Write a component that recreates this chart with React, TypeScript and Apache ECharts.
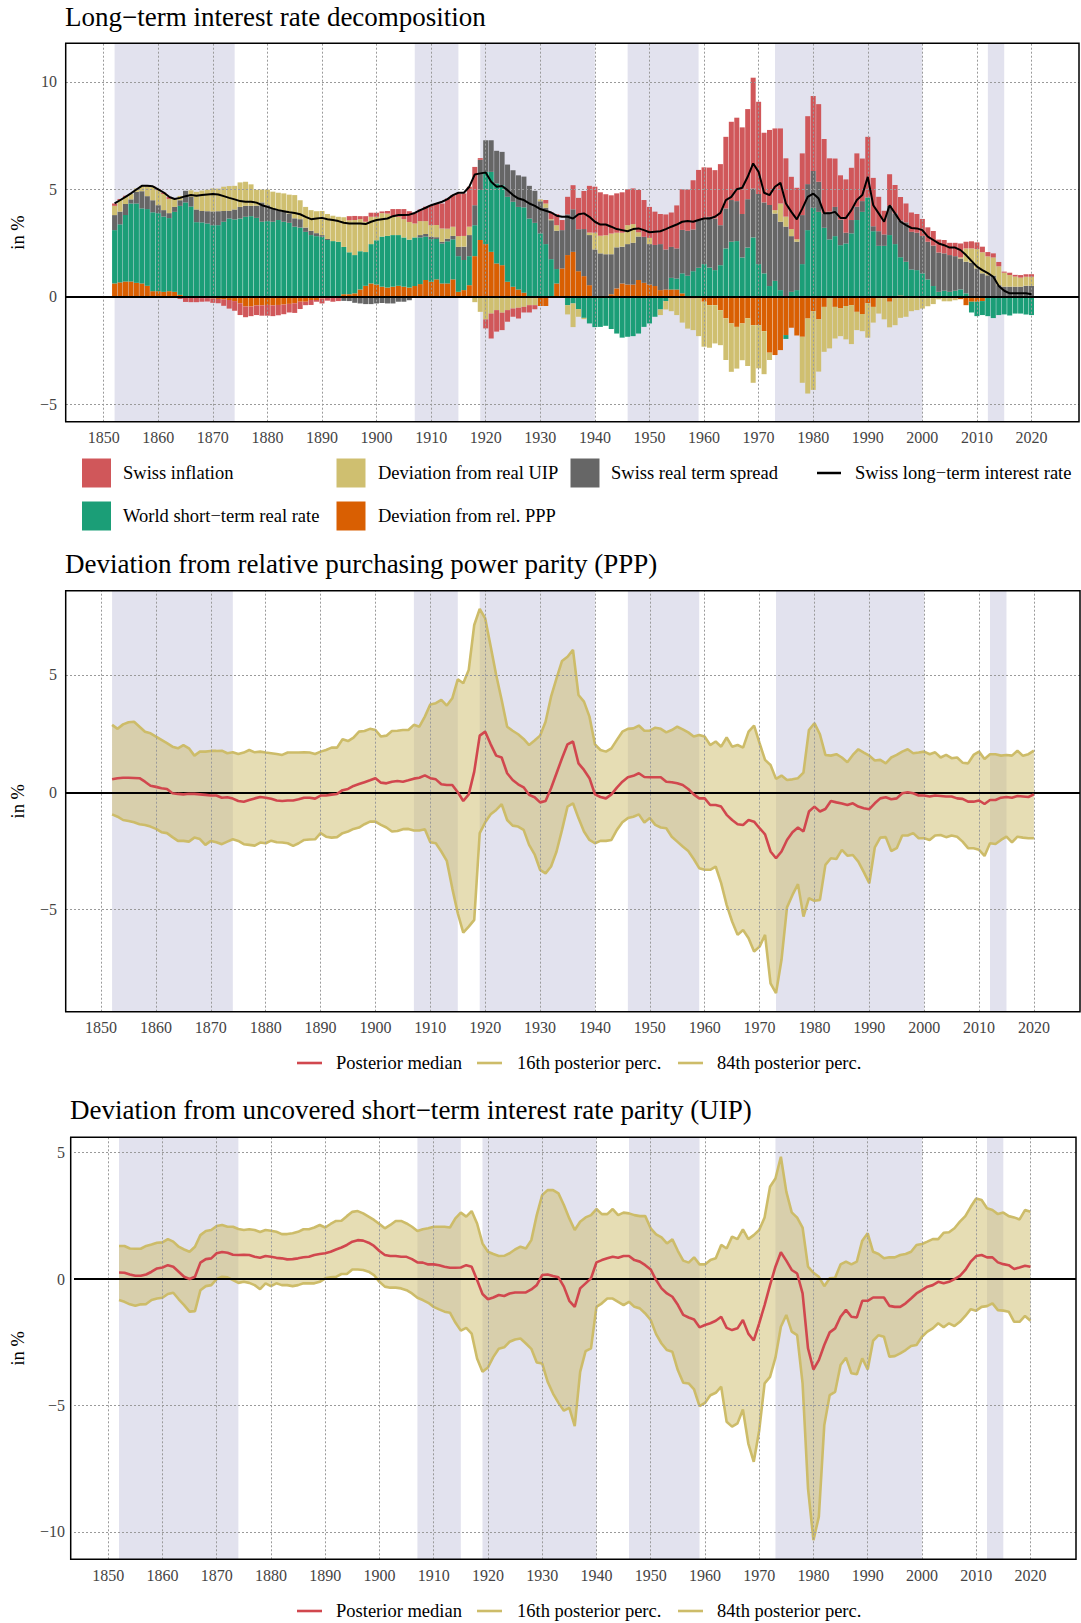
import React, { useEffect, useRef } from 'react';
import * as echarts from 'echarts';

const startYear = 1852;

// ---------- Panel 1: long-term interest rate decomposition (1852-2020) ----------
const pppDev = [
  0.62, 0.67, 0.71, 0.71, 0.65, 0.62, 0.51, 0.26,
  0.26, 0.23, 0.26, 0.23, 0.09, 0.03, -0.05, -0.05, -0.06, -0.06,
  -0.08, -0.1, -0.12, -0.15, -0.2, -0.3, -0.45, -0.45, -0.4, -0.4,
  -0.38, -0.4, -0.38, -0.36, -0.33, -0.3, -0.23, -0.23, -0.15, -0.15,
  -0.08, -0.05, -0.03, 0, 0.12, 0.12, 0.16, 0.34, 0.51, 0.62,
  0.57, 0.47, 0.43, 0.47, 0.51, 0.47, 0.43, 0.5, 0.59, 0.78,
  0.7, 0.81, 0.62, 0.62, 0.81, 0.23, 0.31, 0.54, 1.89, 2.64,
  2.45, 2.09, 1.55, 1.47, 0.7, 0.47, 0.34, 0.19, 0, 0,
  -0.43, -0.43, -0.05, 0.62, 1.32, 1.94, 2.09, 1.19, 0.96, 0.54,
  0, 0, 0, 0.12, 0.39, 0.62, 0.57, 0.57, 0.78, 0.65,
  0.57, 0.5, 0.31, 0.34, 0.34, 0.34, 0.16, -0.08, -0.08, 0,
  -0.23, -0.39, -0.39, -0.62, -1.0, -1.24, -1.4, -1.24, -1.0, -1.32,
  -1.32, -1.6, -2.6, -2.71, -2.48, -1.78, -1.44, -1.8, -1.86, -1.01,
  -0.67, -1.05, -0.47, 0, -0.47, -0.54, -0.43, -0.39, -0.7, -0.8,
  -0.3, -0.47, 0, 0, -0.23, 0, 0.06, 0, 0, 0,
  -0.05, -0.05, 0, 0, -0.05, -0.05, -0.08, -0.11, -0.39, -0.23,
  -0.23, -0.2, -0.05, -0.03, -0.03, 0, -0.02, 0, 0, 0,
  0,
];
const worldRate = [
  2.48, 2.7, 3.09, 3.63, 3.69, 3.49, 3.57, 3.67,
  3.63, 3.5, 3.4, 3.72, 4.14, 4.36, 4.2, 3.47, 3.46, 3.41,
  3.33, 3.33, 3.49, 3.64, 3.6, 3.64, 3.72, 3.75, 3.67, 3.49,
  3.52, 3.49, 3.57, 3.49, 3.44, 3.26, 3.22, 3.02, 2.87, 2.82,
  2.79, 2.64, 2.59, 2.56, 2.2, 1.95, 1.78, 1.78, 1.57, 1.83,
  2.06, 2.33, 2.4, 2.4, 2.36, 2.29, 2.23, 2.26, 2.17, 2.02,
  1.98, 1.88, 1.86, 1.96, 1.86, 1.66, 1.4, 1.35, 1.44, 2.33,
  3.36, 3.72, 3.72, 3.72, 3.95, 3.95, 3.84, 3.97, 3.64, 3.44,
  2.95, 2.45, 1.75, 0.67, 0, -0.39, -0.31, -0.57, -0.98, -1.24,
  -1.41, -1.4, -1.35, -1.5, -1.71, -1.9, -1.86, -1.83, -1.71, -1.4,
  -1.24, -0.93, -0.59, -0.2, 0.54, 0.51, 0.93, 0.98, 1.19, 1.35,
  1.52, 1.36, 1.24, 1.47, 2.25, 2.56, 2.59, 1.83, 2.29, 2.76,
  1.52, 1.09, 0.5, 0.74, 0.31, -0.18, 0.23, 0.31, 1.52, 3.1,
  4.14, 3.95, 3.21, 2.67, 2.82, 2.4, 2.48, 2.95, 3.57, 3.95,
  4.62, 3.05, 2.37, 2.37, 2.87, 2.45, 1.78, 1.63, 1.27, 1.24,
  1.09, 0.81, 0.5, 0.23, 0.28, 0.23, 0.28, 0.34, 0.16, -0.5,
  -0.67, -0.65, -0.85, -0.96, -0.82, -0.82, -0.85, -0.78, -0.78, -0.82,
  -0.85,
];
const termSpread = [
  0.7, 0.59, 0.51, 0.19, 0.54, 0.8, 0.6, 0.56,
  0.37, 0.3, 0.23, 0.23, 0.26, 0.54, 0.45, 0.59, 0.53, 0.57,
  0.64, 0.65, 0.5, 0.36, 0.46, 0.54, 0.51, 0.48, 0.57, 0.9,
  0.74, 0.62, 0.46, 0.47, 0.43, 0.39, 0.39, 0.2, 0.2, 0.14,
  0.08, 0.05, 0, 0, -0.19, -0.2, -0.28, -0.31, -0.34, -0.34,
  -0.31, -0.29, -0.31, -0.31, -0.23, -0.23, -0.16, -0.05, 0.11, 0.12,
  0.11, 0.08, 0.08, 0.12, 0.16, 0.43, 0.62, 0.98, 0.93, 1.4,
  1.47, 1.47, 1.52, 1.55, 1.5, 1.47, 1.47, 1.43, 1.52, 1.49,
  1.49, 1.69, 1.81, 1.78, 1.78, 1.89, 1.98, 1.95, 2.19, 2.33,
  2.2, 2.02, 1.98, 1.86, 1.91, 1.71, 1.88, 1.94, 2.02, 2.14,
  1.88, 1.91, 2.14, 1.86, 1.44, 1.4, 2.02, 2.09, 1.94, 2.22,
  2.08, 2.36, 2.4, 1.86, 1.86, 1.94, 1.86, 2.02, 2.25, 2.28,
  3.26, 3.3, 3.77, 3.13, 3.18, 3.26, 2.59, 2.25, 2.28, 2.14,
  1.71, 1.4, 0.67, 1.29, 1.36, 1.19, 0.5, 0.62, 0.62, 0.5,
  0, 0.23, 0.68, 0.53, 1.36, 1.43, 1.71, 1.83, 1.75, 1.74,
  1.74, 1.75, 1.88, 1.83, 1.74, 1.71, 1.61, 1.44, 1.47, 1.58,
  1.32, 1.09, 1.0, 0.98, 0.54, 0.47, 0.47, 0.47, 0.47, 0.51,
  0.51,
];
const uipDev = [
  0.43, 0.54, 0.34, 0.25, 0.16, 0.25, 0.45, 0.62,
  0.7, 0.75, 0.66, 0.4, 0.2, 0, 0.3, 0.82, 0.95, 1.0,
  1.07, 1.05, 1.13, 1.15, 1.1, 1.14, 1.12, 1.0, 0.74, 0.6,
  0.73, 0.78, 0.81, 0.85, 0.88, 1.08, 0.88, 0.96, 0.96, 1.02,
  1.12, 1.16, 1.18, 1.16, 1.38, 1.49, 1.63, 1.49, 1.41, 1.27,
  1.09, 1.09, 1.04, 0.85, 0.85, 0.85, 0.82, 0.65, 0.65, 0.6,
  0.54, 0.57, 0.62, 0.47, 0.43, 0.5, 0.5, 0.39, -0.25, -0.7,
  -1.05, -0.78, -0.62, -0.74, -0.62, -0.54, -0.51, -0.47, -0.39, -0.39,
  0.09, 0.2, 0.05, 0.26, -0.05, -0.43, -1.1, -0.36, -0.06, 0.12,
  0.78, 0.82, 0.88, 0.96, 0.68, 0.65, 0.88, 0.87, 0.2, 0,
  0.29, 0, -0.26, -0.39, -0.67, -0.85, -1.2, -1.4, -1.47, -1.83,
  -2.09, -1.98, -1.78, -1.63, -1.94, -2.25, -1.94, -1.71, -2.22, -2.68,
  -2.01, -2.0, -0.34, 0.16, 0.85, 0.47, 0.33, 0.12, -2.14, -3.49,
  -3.66, -2.43, -2.09, -2.4, -1.47, -1.29, -1.55, -1.81, -0.85, -0.8,
  -1.6, -0.73, -0.78, -1.05, -1.19, -1.32, -0.98, -0.93, -0.67, -0.62,
  -0.5, -0.39, -0.34, -0.12, -0.16, -0.16, -0.08, 0.05, 0.62, 0.67,
  0.9, 0.98, 0.88, 0.85, 0.88, 0.65, 0.54, 0.47, 0.42, 0.42,
  0.42,
];
const swissInflation = [
  0.11, 0.05, 0.05, 0, 0, 0, 0.03, 0.03,
  0.04, 0.07, 0.1, 0, -0.1, -0.24, -0.2, -0.2, -0.17, -0.16,
  -0.2, -0.2, -0.3, -0.4, -0.45, -0.55, -0.5, -0.45, -0.45, -0.48,
  -0.5, -0.5, -0.48, -0.45, -0.4, -0.45, -0.34, -0.16, -0.23, -0.08,
  -0.23, -0.13, -0.2, -0.2, 0, 0.19, 0.19, 0.14, 0.26, 0.19,
  0.19, 0.08, 0.12, 0.36, 0.36, 0.47, 0.5, 0.5, 0.54, 0.67,
  0.93, 1.0, 1.16, 1.4, 1.47, 1.98, 1.98, 1.86, 1.78, 0.08,
  -0.42, -1.16, -1.0, -0.81, -0.54, -0.39, -0.5, -0.26, -0.34, -0.19,
  0, 0.16, 0.31, 0.51, 0.47, 0.82, 1.12, 1.46, 1.77, 2.17,
  2.14, 2.02, 1.91, 1.78, 1.83, 1.88, 1.67, 1.66, 1.97, 1.71,
  1.44, 1.55, 1.4, 1.63, 1.6, 2.0, 1.89, 1.92, 2.29, 2.33,
  2.42, 2.29, 2.25, 2.84, 3.33, 3.64, 3.88, 4.03, 4.19, 5.15,
  4.29, 3.24, 3.49, 3.8, 3.49, 2.71, 2.43, 2.39, 2.87, 3.16,
  3.49, 3.61, 3.46, 2.48, 2.25, 2.06, 2.48, 2.43, 2.48, 1.98,
  2.82, 2.25, 1.6, 1.1, 1.47, 1.32, 1.09, 0.88, 0.9, 0.87,
  0.79, 0.67, 0.68, 0.6, 0.62, 0.57, 0.62, 0.65, 0.31, 0.33,
  0.31, 0.26, 0.2, 0.19, 0.2, 0.05, 0.11, 0.08, 0.12, 0.12,
  0.12,
];
const longTermRate = [
  4.34, 4.49, 4.65, 4.81, 4.99, 5.16, 5.16, 5.14,
  5.0, 4.85, 4.65, 4.55, 4.6, 4.68, 4.73, 4.7, 4.73, 4.76,
  4.78, 4.76, 4.68, 4.6, 4.53, 4.45, 4.42, 4.42, 4.38, 4.26,
  4.18, 4.1, 4.03, 3.98, 3.93, 3.9, 3.84, 3.72, 3.61, 3.64,
  3.67, 3.61, 3.57, 3.52, 3.44, 3.41, 3.41, 3.41, 3.38, 3.49,
  3.57, 3.61, 3.64, 3.75, 3.8, 3.8, 3.82, 3.9, 4.03, 4.14,
  4.26, 4.34, 4.42, 4.54, 4.73, 4.84, 4.84, 5.12, 5.69, 5.74,
  5.78, 5.35, 5.12, 5.15, 4.96, 4.73, 4.57, 4.5, 4.34, 4.23,
  4.08, 4.0, 3.92, 3.77, 3.72, 3.72, 3.64, 3.84, 3.88, 3.72,
  3.49, 3.36, 3.36, 3.26, 3.15, 3.1, 3.05, 3.15, 3.18, 3.1,
  3.0, 3.03, 3.05, 3.15, 3.26, 3.36, 3.49, 3.52, 3.49, 3.57,
  3.64, 3.64, 3.72, 3.9, 4.5, 4.65, 5.0, 5.07, 5.58, 6.2,
  5.81, 4.84, 4.73, 5.12, 5.3, 4.34, 3.95, 3.6, 4.1, 4.65,
  4.8, 4.57, 3.88, 3.88, 3.95, 3.67, 3.67, 4.03, 4.5, 4.73,
  5.58, 4.26, 3.88, 3.49, 4.26, 3.88, 3.49, 3.33, 3.2, 3.18,
  3.1, 2.8, 2.64, 2.48, 2.4, 2.29, 2.29, 2.17, 1.94, 1.67,
  1.4, 1.24, 1.1, 0.93, 0.5, 0.28, 0.16, 0.16, 0.16, 0.16,
  0.12,
];

// ---------- Panel 2: deviation from relative PPP ----------
const pppP84 = [
  2.87, 2.7, 2.89, 2.98, 3.0, 2.79, 2.58, 2.51,
  2.37, 2.23, 2.09, 1.94, 1.87, 2.01, 1.87, 1.56, 1.73, 1.73,
  1.76, 1.76, 1.77, 1.66, 1.7, 1.63, 1.69, 1.8, 1.7, 1.73,
  1.69, 1.66, 1.63, 1.59, 1.69, 1.69, 1.69, 1.7, 1.69, 1.63,
  1.73, 1.8, 1.9, 1.9, 2.26, 2.18, 2.33, 2.58, 2.61, 2.7,
  2.65, 2.37, 2.41, 2.61, 2.62, 2.65, 2.65, 2.87, 2.79, 3.22,
  3.74, 3.79, 3.93, 3.69, 4.0, 4.81, 4.64, 5.21, 7.12, 7.8,
  7.4, 6.2, 4.99, 3.93, 2.79, 2.62, 2.47, 2.27, 2.01, 2.2,
  2.41, 3.0, 4.07, 4.85, 5.59, 5.77, 6.06, 4.14, 3.86, 3.22,
  2.04, 1.8, 1.73, 1.87, 2.23, 2.58, 2.7, 2.72, 2.84, 2.62,
  2.62, 2.75, 2.7, 2.55, 2.65, 2.79, 2.68, 2.55, 2.37, 2.44,
  2.37, 2.01, 2.16, 1.94, 2.33, 1.94, 2.01, 1.9, 2.58, 2.84,
  2.09, 1.38, 1.16, 0.57, 0.71, 0.52, 0.55, 0.6, 0.84, 2.65,
  2.94, 2.47, 1.59, 1.56, 1.62, 1.48, 1.28, 1.59, 1.83, 1.69,
  1.56, 1.35, 1.38, 1.23, 1.48, 1.59, 1.73, 1.83, 1.66, 1.69,
  1.73, 1.62, 1.7, 1.48, 1.59, 1.45, 1.48, 1.26, 1.23, 1.59,
  1.73, 1.42, 1.62, 1.62, 1.56, 1.59, 1.56, 1.77, 1.55, 1.62,
  1.77,
];
const pppMedian = [
  0.55, 0.6, 0.62, 0.62, 0.61, 0.6, 0.45, 0.28,
  0.23, 0.17, 0.14, -0.04, -0.07, -0.09, -0.06, -0.07, -0.09, -0.11,
  -0.14, -0.14, -0.23, -0.21, -0.27, -0.37, -0.4, -0.33, -0.26, -0.2,
  -0.23, -0.28, -0.35, -0.37, -0.35, -0.35, -0.3, -0.23, -0.23, -0.27,
  -0.14, -0.14, -0.1, -0.07, 0.09, 0.14, 0.27, 0.35, 0.43, 0.51,
  0.6, 0.41, 0.38, 0.45, 0.48, 0.45, 0.51, 0.58, 0.62, 0.72,
  0.6, 0.55, 0.34, 0.31, 0.31, 0, -0.37, -0.09, 0.88, 2.41,
  2.58, 2.04, 1.56, 1.48, 0.81, 0.52, 0.34, 0.21, -0.11, -0.21,
  -0.43, -0.37, 0.17, 0.81, 1.45, 2.04, 2.16, 1.23, 0.95, 0.6,
  -0.09, -0.2, -0.26, -0.09, 0.2, 0.45, 0.64, 0.7, 0.81, 0.65,
  0.64, 0.64, 0.64, 0.45, 0.43, 0.38, 0.31, 0.14, -0.09, -0.26,
  -0.26, -0.54, -0.54, -0.61, -0.96, -1.18, -1.36, -1.39, -1.18, -1.25,
  -1.53, -1.79, -2.52, -2.81, -2.52, -2.03, -1.7, -1.5, -1.67, -0.82,
  -0.61, -0.82, -0.71, -0.37, -0.43, -0.48, -0.54, -0.47, -0.61, -0.68,
  -0.72, -0.47, -0.26, -0.21, -0.3, -0.26, -0.04, 0, -0.04, -0.14,
  -0.14, -0.18, -0.14, -0.16, -0.18, -0.18, -0.26, -0.28, -0.4, -0.4,
  -0.35, -0.5, -0.33, -0.33, -0.23, -0.2, -0.23, -0.16, -0.18, -0.2,
  -0.09,
];
const pppP16 = [
  -0.94, -1.04, -1.18, -1.22, -1.28, -1.36, -1.39, -1.46,
  -1.56, -1.7, -1.74, -1.91, -2.07, -2.07, -2.1, -1.93, -1.99, -2.24,
  -2.07, -2.13, -2.21, -2.1, -2.0, -2.07, -2.21, -2.24, -2.27, -2.14,
  -2.17, -2.06, -2.13, -2.14, -2.17, -2.28, -2.17, -2.03, -2.01, -2.0,
  -1.74, -1.89, -1.93, -1.91, -1.74, -1.67, -1.56, -1.5, -1.36, -1.25,
  -1.25, -1.39, -1.5, -1.67, -1.65, -1.57, -1.56, -1.63, -1.63, -1.57,
  -2.13, -2.17, -2.52, -2.92, -4.09, -5.15, -5.97, -5.72, -5.43, -1.74,
  -1.28, -0.94, -0.75, -0.51, -1.18, -1.42, -1.46, -1.6, -2.24, -2.64,
  -3.3, -3.45, -3.16, -2.52, -1.6, -0.61, -0.47, -1.1, -1.67, -2.03,
  -2.17, -2.07, -2.07, -2.03, -1.6, -1.28, -1.1, -1.04, -0.94, -1.29,
  -1.1, -1.39, -1.5, -1.53, -1.89, -2.1, -2.31, -2.5, -2.84, -3.23,
  -3.3, -3.3, -3.16, -3.87, -4.79, -5.5, -6.07, -5.86, -6.21, -6.78,
  -6.57, -6.07, -8.13, -8.55, -7.13, -4.9, -4.37, -3.91, -5.29, -4.51,
  -4.62, -4.58, -3.09, -2.81, -2.84, -2.45, -2.7, -2.67, -2.95, -3.4,
  -3.87, -2.35, -1.93, -1.91, -2.5, -2.38, -1.84, -1.84, -1.74, -1.96,
  -1.96, -2.03, -1.84, -1.82, -1.91, -1.84, -1.89, -2.1, -2.38, -2.38,
  -2.45, -2.71, -2.17, -2.2, -2.03, -1.89, -2.13, -1.89, -1.93, -1.96,
  -1.96,
];

// ---------- Panel 3: deviation from UIP ----------
const uipP84 = [
  1.31, 1.31, 1.21, 1.2, 1.2, 1.31, 1.37, 1.44,
  1.45, 1.58, 1.48, 1.28, 1.17, 1.08, 1.28, 1.74, 1.9, 1.94,
  2.1, 2.14, 2.07, 2.07, 1.98, 1.94, 1.97, 1.94, 1.86, 1.94,
  1.91, 1.87, 1.78, 1.78, 1.81, 1.87, 1.97, 1.97, 2.04, 2.14,
  2.04, 2.18, 2.3, 2.31, 2.49, 2.66, 2.69, 2.6, 2.47, 2.34,
  2.18, 2.01, 2.14, 2.3, 2.3, 2.2, 2.07, 1.9, 1.97, 2.01,
  2.07, 2.07, 2.07, 2.04, 2.4, 2.63, 2.47, 2.69, 2.2, 1.41,
  1.08, 0.99, 0.91, 0.92, 1.02, 1.17, 1.28, 1.21, 1.54, 2.53,
  3.32, 3.52, 3.52, 3.39, 2.93, 2.4, 1.94, 2.27, 2.44, 2.53,
  2.77, 2.57, 2.57, 2.77, 2.53, 2.63, 2.6, 2.53, 2.49, 2.49,
  2.01, 1.77, 1.65, 1.41, 1.57, 1.12, 0.73, 0.65, 0.86, 0.58,
  0.58, 0.75, 0.82, 1.35, 1.21, 1.68, 1.58, 1.97, 1.58, 1.74,
  1.94, 2.44, 3.65, 3.98, 4.84, 3.46, 2.64, 2.43, 2.04, 0.49,
  0.25, 0.09, -0.28, 0.03, 0.05, 0.58, 0.69, 0.58, 0.69, 1.52,
  1.81, 1.08, 0.99, 0.82, 0.86, 0.86, 0.95, 0.99, 1.08, 1.35,
  1.39, 1.48, 1.58, 1.58, 1.83, 1.85, 2.01, 2.27, 2.49, 2.86,
  3.19, 3.13, 2.8, 2.73, 2.57, 2.63, 2.49, 2.44, 2.36, 2.73,
  2.66,
];
const uipMedian = [
  0.26, 0.25, 0.18, 0.13, 0.13, 0.18, 0.29, 0.42,
  0.46, 0.55, 0.49, 0.29, 0.09, 0, 0.09, 0.65, 0.79, 0.82,
  1.02, 1.07, 1.04, 0.96, 0.95, 0.96, 0.95, 0.88, 0.84, 0.91,
  0.88, 0.84, 0.82, 0.78, 0.79, 0.82, 0.86, 0.88, 0.95, 0.99,
  1.02, 1.08, 1.17, 1.25, 1.35, 1.48, 1.54, 1.52, 1.44, 1.31,
  1.11, 0.95, 0.91, 0.91, 0.88, 0.88, 0.79, 0.66, 0.65, 0.58,
  0.58, 0.55, 0.49, 0.45, 0.45, 0.46, 0.55, 0.49, -0.04, -0.59,
  -0.8, -0.73, -0.63, -0.67, -0.57, -0.53, -0.53, -0.53, -0.41, -0.24,
  0.16, 0.18, 0.12, 0.07, -0.3, -0.86, -1.1, -0.37, -0.17, 0.03,
  0.66, 0.75, 0.82, 0.88, 0.84, 0.91, 0.91, 0.75, 0.69, 0.55,
  0.38, -0.04, -0.37, -0.57, -0.7, -1.02, -1.42, -1.52, -1.6, -1.91,
  -1.82, -1.75, -1.65, -1.49, -1.93, -2.02, -1.95, -1.62, -2.16, -2.43,
  -1.75, -1.03, -0.24, 0.49, 1.06, 0.73, 0.36, 0.22, -0.57, -2.74,
  -3.58, -3.21, -2.61, -2.11, -1.95, -1.49, -1.22, -1.49, -1.52, -0.86,
  -0.86, -0.73, -0.73, -0.73, -1.06, -1.1, -1.1, -0.96, -0.77, -0.57,
  -0.44, -0.3, -0.24, -0.11, -0.17, -0.11, 0, 0.13, 0.36, 0.69,
  0.91, 0.95, 0.86, 0.86, 0.66, 0.59, 0.55, 0.4, 0.46, 0.53,
  0.49,
];
const uipP16 = [
  -0.83, -0.9, -1.0, -1.06, -1.0, -0.99, -0.83, -0.77,
  -0.74, -0.59, -0.54, -0.8, -1.03, -1.29, -1.27, -0.44, -0.28, -0.24,
  0, 0.09, 0.07, -0.04, -0.15, -0.11, -0.15, -0.24, -0.4, -0.17,
  -0.28, -0.17, -0.24, -0.24, -0.28, -0.24, -0.17, -0.17, -0.17, -0.11,
  0.03, 0.07, 0.09, 0.2, 0.2, 0.38, 0.38, 0.36, 0.29, 0.16,
  -0.11, -0.3, -0.34, -0.34, -0.37, -0.44, -0.57, -0.74, -0.83, -0.94,
  -1.1, -1.2, -1.29, -1.33, -1.72, -2.04, -1.93, -2.16, -3.14, -3.67,
  -3.5, -3.08, -2.76, -2.7, -2.48, -2.39, -2.35, -2.55, -2.76, -3.3,
  -3.34, -4.06, -4.53, -4.9, -5.21, -5.1, -5.82, -3.67, -2.85, -2.74,
  -1.1, -0.96, -0.77, -0.77, -0.9, -1.03, -0.9, -1.1, -1.16, -1.36,
  -1.62, -2.18, -2.55, -2.81, -2.88, -3.6, -4.1, -4.13, -4.37, -5.03,
  -4.9, -4.6, -4.5, -4.26, -5.65, -5.84, -5.71, -5.16, -6.51, -7.23,
  -6.0, -4.13, -3.87, -3.11, -1.89, -1.42, -2.08, -2.22, -4.13, -8.28,
  -10.33, -9.4, -5.78, -4.59, -4.46, -3.4, -3.11, -3.73, -3.77, -3.14,
  -3.58, -2.44, -2.22, -2.28, -3.07, -3.05, -2.94, -2.81, -2.65, -2.61,
  -2.28, -2.08, -1.95, -1.75, -1.91, -1.75, -1.86, -1.69, -1.46, -1.19,
  -1.25, -1.1, -1.07, -0.96, -1.23, -1.25, -1.29, -1.69, -1.69, -1.46,
  -1.65,
];

const years = pppDev.map((_, i) => startYear + i);
const decadeTicks = [1850, 1860, 1870, 1880, 1890, 1900, 1910, 1920, 1930, 1940, 1950, 1960, 1970, 1980, 1990, 2000, 2010, 2020];
const bandRanges = [[1852, 1874], [1907, 1915], [1919, 1940], [1946, 1959], [1973, 2000], [2012, 2015]];
const yTicks1 = [-5, 0, 5, 10];
const yTicks2 = [-5, 0, 5];
const yTicks3 = [-10, -5, 0, 5];

const FONT = 'Liberation Serif';
const C_RED = '#d0575a';
const C_KHAKI = '#cfbf70';
const C_GRAY = '#666666';
const C_GREEN = '#1b9e77';
const C_ORANGE = '#d95f02';
const C_BAND = '#e2e2ee';
const C_MEDIAN = '#d1474e';
const C_PERC = '#cdbc69';
const C_TICK = '#444444';
const C_RIBBON = 'rgba(205,187,106,0.5)';

const pairs = (arr: number[]) => arr.map((v, i) => [years[i], v]);
const fmtY = (v: number) => (v < 0 ? '\u2212' + Math.abs(v) : String(v));

// same-sign stacking table: [year, base, top]
const stackOrder = [pppDev, worldRate, termSpread, uipDev, swissInflation];
function stackRows(k: number) {
  return years.map((yr, i) => {
    let pos = 0;
    let neg = 0;
    for (let j = 0; j < k; j++) {
      const v = stackOrder[j][i];
      if (v >= 0) pos += v; else neg += v;
    }
    const v = stackOrder[k][i];
    const base = v >= 0 ? pos : neg;
    return [yr, base, base + v];
  });
}

function buildOption() {
  const grids = [
    { left: 65.7, top: 43.3, width: 1013.3, height: 378.4 },
    { left: 65.7, top: 590.7, width: 1014.3, height: 421 },
    { left: 70.7, top: 1137.3, width: 1005.3, height: 422 },
  ];
  const xr = [[1843.1, 2028.7], [1843.6, 2028.4], [1843.7, 2028.4]];
  const yr = [[-5.81, 11.79], [-9.34, 8.58], [-11.09, 5.61]];
  const yt = [yTicks1, yTicks2, yTicks3];
  const nameGaps = [39, 39, 47];

  const xAxis = grids.map((_, i) => ({
    type: 'value', gridIndex: i, min: xr[i][0], max: xr[i][1],
    axisLine: { show: false },
    axisTick: { show: false, customValues: decadeTicks },
    splitLine: { show: false },
    axisLabel: { customValues: decadeTicks, margin: 8, fontFamily: FONT, fontSize: 16, color: C_TICK, formatter: (v: number) => String(v) },
  }));
  const yAxis = grids.map((_, i) => ({
    type: 'value', gridIndex: i, min: yr[i][0], max: yr[i][1],
    name: 'in %', nameLocation: 'middle', nameRotate: 90, nameGap: nameGaps[i],
    nameTextStyle: { fontFamily: FONT, fontSize: 18.5, color: '#000' },
    axisLine: { show: false },
    axisTick: { show: false, customValues: yt[i] },
    splitLine: { show: false },
    axisLabel: { customValues: yt[i], margin: 9, fontFamily: FONT, fontSize: 16, color: C_TICK, formatter: fmtY },
  }));

  const series: any[] = [];
  grids.forEach((_, i) => {
    series.push({
      type: 'line', xAxisIndex: i, yAxisIndex: i, data: [], z: 0, silent: true,
      markArea: { silent: true, itemStyle: { color: C_BAND }, data: bandRanges.map(([a, b]) => [{ xAxis: a }, { xAxis: b }]) },
    });
    series.push({
      type: 'line', xAxisIndex: i, yAxisIndex: i, data: [], z: 1, silent: true,
      markLine: {
        silent: true, symbol: ['none', 'none'], label: { show: false },
        lineStyle: { type: [2, 2], color: '#9a9a9a', width: 1 },
        data: [
          ...decadeTicks.map((x) => ({ xAxis: x })),
          ...yt[i].filter((v) => v !== 0).map((v) => ({ yAxis: v })),
        ],
      },
    });
  });

  // panel 1 stacked bars (custom series, same-sign stacking)
  const barHalf = 0.46;
  const barDefs: [string, string][] = [
    ['Deviation from rel. PPP', C_ORANGE],
    ['World short\u2212term real rate', C_GREEN],
    ['Swiss real term spread', C_GRAY],
    ['Deviation from real UIP', C_KHAKI],
    ['Swiss inflation', C_RED],
  ];
  barDefs.forEach(([name, color], k) => {
    series.push({
      type: 'custom', name, xAxisIndex: 0, yAxisIndex: 0, z: 3, silent: true,
      data: stackRows(k),
      encode: { x: 0, y: [1, 2] },
      renderItem: (_params: any, api: any) => {
        const x = api.value(0);
        const b = api.value(1);
        const t = api.value(2);
        if (b === t) return null;
        const p1 = api.coord([x - barHalf, Math.max(b, t)]);
        const p2 = api.coord([x + barHalf, Math.min(b, t)]);
        return {
          type: 'rect',
          shape: { x: p1[0], y: p1[1], width: p2[0] - p1[0], height: p2[1] - p1[1] },
          style: { fill: color },
        };
      },
    });
  });
  series.push({
    type: 'line', name: 'Swiss long\u2212term interest rate', xAxisIndex: 0, yAxisIndex: 0,
    data: pairs(longTermRate), symbol: 'none', lineStyle: { color: '#000', width: 2 }, z: 10, silent: true,
  });

  // panels 2 & 3 ribbons
  const ribbons: [number, number[], number[], number[]][] = [
    [1, pppP16, pppMedian, pppP84],
    [2, uipP16, uipMedian, uipP84],
  ];
  ribbons.forEach(([gi, lo, med, hi]) => {
    series.push({
      type: 'custom', xAxisIndex: gi, yAxisIndex: gi, z: 3, silent: true,
      data: years.map((yr, k) => [yr, lo[k], hi[k]]),
      encode: { x: 0, y: [1, 2] },
      renderItem: (params: any, api: any) => {
        if (params.dataIndex !== 0) return null;
        const upper = years.map((yr, k) => api.coord([yr, hi[k]]));
        const lower = years.map((yr, k) => api.coord([yr, lo[k]])).reverse();
        return { type: 'polygon', shape: { points: upper.concat(lower) }, style: { fill: C_RIBBON } };
      },
    });
    series.push({
      type: 'line', name: '16th posterior perc.', xAxisIndex: gi, yAxisIndex: gi, data: pairs(lo),
      symbol: 'none', lineStyle: { color: C_PERC, width: 2.6 }, z: 4, silent: true,
    });
    series.push({
      type: 'line', name: '84th posterior perc.', xAxisIndex: gi, yAxisIndex: gi, data: pairs(hi),
      symbol: 'none', lineStyle: { color: C_PERC, width: 2.6 }, z: 4, silent: true,
    });
    series.push({
      type: 'line', name: 'Posterior median', xAxisIndex: gi, yAxisIndex: gi, data: pairs(med),
      symbol: 'none', lineStyle: { color: C_MEDIAN, width: 2.6 }, z: 5, silent: true,
    });
  });

  // zero lines
  grids.forEach((_, i) => {
    series.push({
      type: 'line', xAxisIndex: i, yAxisIndex: i, data: [], z: 8, silent: true,
      markLine: { silent: true, symbol: ['none', 'none'], label: { show: false }, lineStyle: { type: 'solid', color: '#000', width: 2 }, data: [{ yAxis: 0 }] },
    });
  });

  const txt = (text: string, x: number, y: number) => ({
    type: 'text', x, y, z: 100,
    style: { text, fontFamily: FONT, fontSize: 18.5, fill: '#000', verticalAlign: 'middle', align: 'left' },
  });
  const sq = (x: number, y: number, color: string) => ({
    type: 'rect', z: 100, shape: { x, y: y - 14.5, width: 29, height: 29 }, style: { fill: color },
  });
  const ln = (x1: number, x2: number, y: number, color: string, w: number) => ({
    type: 'line', z: 100, shape: { x1, y1: y, x2, y2: y }, style: { stroke: color, lineWidth: w },
  });

  const graphic: any[] = [
    ...grids.map((g) => ({
      type: 'rect', z: 99, silent: true,
      shape: { x: g.left, y: g.top, width: g.width, height: g.height },
      style: { fill: 'none', stroke: '#000', lineWidth: 1.5 },
    })),
    sq(82, 473, C_RED), txt('Swiss inflation', 123, 473),
    sq(336.5, 473, C_KHAKI), txt('Deviation from real UIP', 378, 473),
    sq(570.5, 473, C_GRAY), txt('Swiss real term spread', 611, 473),
    ln(817, 841, 473, '#000', 2.5), txt('Swiss long\u2212term interest rate', 855, 473),
    sq(82, 516, C_GREEN), txt('World short\u2212term real rate', 123, 516),
    sq(336.5, 516, C_ORANGE), txt('Deviation from rel. PPP', 378, 516),
  ];
  [1063, 1611].forEach((y) => {
    graphic.push(ln(297, 322, y, C_MEDIAN, 2.6), txt('Posterior median', 336, y));
    graphic.push(ln(477, 502, y, C_PERC, 2.6), txt('16th posterior perc.', 517, y));
    graphic.push(ln(678, 703, y, C_PERC, 2.6), txt('84th posterior perc.', 717, y));
  });

  const titleStyle = { fontFamily: FONT, fontSize: 27, fontWeight: 'normal', color: '#000' };
  return {
    animation: false,
    backgroundColor: '#fff',
    title: [
      { text: 'Long\u2212term interest rate decomposition', left: 65, top: 3, padding: 0, textStyle: titleStyle },
      { text: 'Deviation from relative purchasing power parity (PPP)', left: 65, top: 550, padding: 0, textStyle: titleStyle },
      { text: 'Deviation from uncovered short\u2212term interest rate parity (UIP)', left: 70, top: 1096, padding: 0, textStyle: titleStyle },
    ],
    grid: grids.map((g) => ({ ...g, containLabel: false })),
    xAxis, yAxis, series, graphic,
  };
}

export default function App() {
  const ref = useRef<HTMLDivElement>(null);
  useEffect(() => {
    document.body.style.margin = '0';
    const chart = echarts.init(ref.current as HTMLDivElement, undefined, { renderer: 'svg' });
    chart.setOption(buildOption() as any);
    return () => chart.dispose();
  }, []);
  return <div ref={ref} style={{ width: 1081, height: 1623 }} />;
}
